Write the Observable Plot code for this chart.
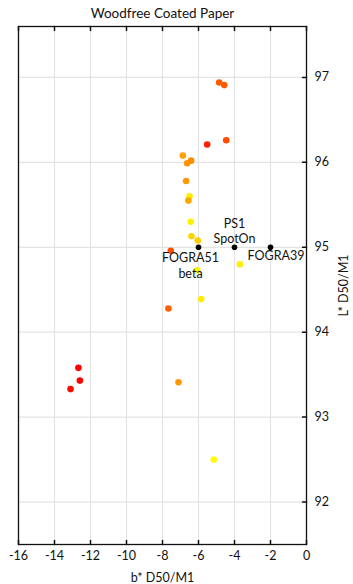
<!DOCTYPE html>
<html>
<head>
<meta charset="utf-8">
<script src="https://cdn.jsdelivr.net/npm/d3@7"></script>
<script src="https://cdn.jsdelivr.net/npm/@observablehq/plot@0.6"></script>
<style>
  html, body { margin: 0; padding: 0; background: #fff; }
  svg { display: block; }
</style>
</head>
<body>
<div id="chart"></div>
<script>
// Measured samples: b* (x) and L* (y), with dot colour
const bValues = [-4.85, -4.57, -5.52, -4.46, -6.87, -6.63, -6.41, -6.69, -6.50, -6.56, -6.43, -6.39, -6.04, -7.54, -3.70, -6.07, -5.85, -7.67, -12.67, -12.59, -13.11, -7.11, -5.15];
const lValues = [96.94, 96.91, 96.21, 96.26, 96.08, 95.99, 96.02, 95.78, 95.60, 95.55, 95.30, 95.13, 95.08, 94.96, 94.80, 94.73, 94.39, 94.28, 93.58, 93.43, 93.33, 93.41, 92.50];
const dotColors = ["#ff5a00", "#ff5a00", "#ff2000", "#ff4a00", "#ffa000", "#ff9500", "#ff8c00", "#ff9a00", "#ffee00", "#ffa500", "#fff000", "#ffd500", "#ffcc00", "#ff5000", "#ffee00", "#ffee00", "#ffee00", "#ff6000", "#ff0000", "#ff0000", "#ff0a00", "#ff9900", "#ffff00"];

// Reference standards (black)
const refNames = ["FOGRA51\nbeta", "PS1\nSpotOn", "FOGRA39"];
const refB = [-6, -4, -2];
const refL = [95, 95, 95];

const xTicks = [-16, -14, -12, -10, -8, -6, -4, -2, 0];
const yTicks = [92, 93, 94, 95, 96, 97];
const titleText = "Woodfree Coated Paper";
const xLabel = "b* D50/M1";
const yLabel = "L* D50/M1";

const samples = bValues.map((b, i) => ({b, L: lValues[i], color: dotColors[i]}));
const refs = refNames.map((name, i) => ({name, b: refB[i], L: refL[i]}));

const tickShape = {draw(context, l) { context.moveTo(0, 0); context.lineTo(0, -l); }};
const font = "Lato, 'Open Sans', sans-serif";
const fmt = d => String(d);

const chart = Plot.plot({
  width: 353,
  height: 584,
  marginLeft: 18,
  marginRight: 47,
  marginTop: 26,
  marginBottom: 40,
  style: {fontFamily: font, fontSize: "12px", color: "#111", background: "#fff"},
  x: {domain: [-16, 0]},
  y: {domain: [91.5, 97.6]},
  marks: [
    Plot.gridX(xTicks, {stroke: "#e4e4e4", strokeOpacity: 1, strokeWidth: 1.2}),
    Plot.gridY(yTicks, {stroke: "#e4e4e4", strokeOpacity: 1, strokeWidth: 1.2}),
    Plot.frame({stroke: "#111", strokeWidth: 1.3}),
    Plot.vector(xTicks, {x: d => d, frameAnchor: "bottom", length: 4, anchor: "start", shape: tickShape, stroke: "#111"}),
    Plot.vector(xTicks, {x: d => d, frameAnchor: "top", length: 4, rotate: 180, anchor: "start", shape: tickShape, stroke: "#111"}),
    Plot.vector(yTicks, {y: d => d, frameAnchor: "right", length: 4, rotate: -90, anchor: "start", shape: tickShape, stroke: "#111"}),
    Plot.axisX(xTicks, {tickSize: 0, tickPadding: 7, label: null, fontSize: 12.5, tickFormat: fmt}),
    Plot.axisY(yTicks, {anchor: "right", tickSize: 0, tickPadding: 8, label: null, fontSize: 12.5, tickFormat: fmt}),
    Plot.dot(samples, {x: "b", y: "L", fill: "color", r: 3.3, stroke: null}),
    Plot.dot(refs, {x: "b", y: "L", fill: "#000", r: 2.8}),
    Plot.text(refs.filter(d => d.name.startsWith("FOGRA51")), {x: "b", y: "L", text: "name", dx: -8, dy: 4, lineAnchor: "top", fontSize: 12.5, lineHeight: 1.25, fill: "#111"}),
    Plot.text(refs.filter(d => d.name.startsWith("PS1")), {x: "b", y: "L", text: "name", dy: -4, lineAnchor: "bottom", fontSize: 12.5, lineHeight: 1.25, fill: "#111"}),
    Plot.text(refs.filter(d => d.name === "FOGRA39"), {x: "b", y: "L", text: "name", dx: 5.5, dy: 4, lineAnchor: "top", fontSize: 12.5, fill: "#111"}),
    Plot.text([titleText], {text: d => d, frameAnchor: "top", lineAnchor: "middle", dy: -13, fontSize: 13.5, fill: "#111"}),
    Plot.text([xLabel], {text: d => d, frameAnchor: "bottom", lineAnchor: "middle", dy: 33, fontSize: 12.5, fill: "#111"}),
    Plot.text([yLabel], {text: d => d, frameAnchor: "right", textAnchor: "middle", dx: 37, rotate: -90, fontSize: 12.5, fill: "#111"})
  ]
});
document.getElementById("chart").appendChild(chart);
</script>
</body>
</html>
